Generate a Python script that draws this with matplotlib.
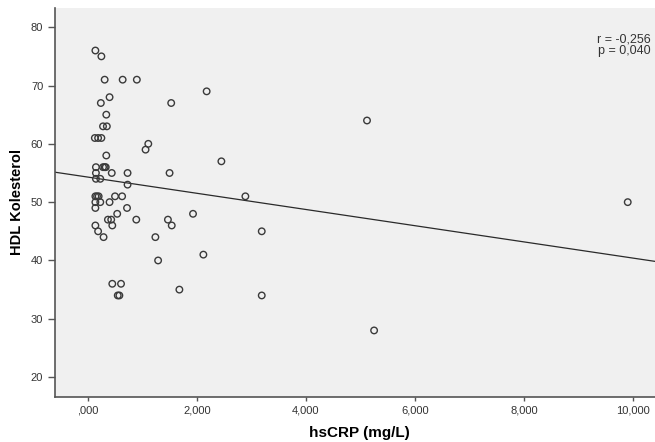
"""Scatter of HDL cholesterol against hsCRP with a linear fit line."""

import matplotlib
matplotlib.use("Agg")
import matplotlib.pyplot as plt
from matplotlib.ticker import FuncFormatter

plt.rcParams['font.family'] = ['Liberation Sans', 'DejaVu Sans']

# hsCRP (mg/L) values
hscrp = [
    0.14, 0.25, 0.31, 0.64, 0.90, 0.40, 0.24, 0.34, 0.28, 0.35,
    0.13, 0.19, 0.25, 1.11, 1.06, 0.34, 0.15, 0.28, 0.31, 0.33,
    0.44, 0.73, 0.15, 1.50, 0.15, 0.23, 0.73, 0.14, 0.17, 0.20,
    0.50, 0.63, 2.89, 0.14, 0.23, 0.40, 9.90, 0.72, 0.14, 0.54,
    1.93, 0.37, 0.43, 0.89, 1.47, 0.14, 0.45, 1.54, 0.19, 3.19,
    0.29, 1.24, 1.29, 2.12, 0.45, 0.61, 0.55, 0.58, 1.68, 3.19,
    5.12, 5.25, 2.18, 1.53, 2.45,
]
# HDL Kolesterol values
hdl = [
    76, 75, 71, 71, 71, 68, 67, 65, 63, 63,
    61, 61, 61, 60, 59, 58, 56, 56, 56, 56,
    55, 55, 55, 55, 54, 54, 53, 51, 51, 51,
    51, 51, 51, 50, 50, 50, 50, 49, 49, 48,
    48, 47, 47, 47, 47, 46, 46, 46, 45, 45,
    44, 44, 40, 41, 36, 36, 34, 34, 35, 34,
    64, 28, 69, 67, 57,
]

# fit line
fit_intercept = 54.3
fit_slope = -1.39
fit_x = [-0.6, 10.4]

x_ticks = [0, 2, 4, 6, 8, 10]
y_ticks = [20, 30, 40, 50, 60, 70, 80]
stats_text = "r = -0,256\np = 0,040"


def tr_fmt(v, pos):
    s = f"{v:.3f}".replace('.', ',')
    if s.startswith('0,'):
        s = s[1:]
    return s


fig = plt.figure(figsize=(6.55, 4.42), dpi=100)
ax = fig.add_axes([0.084, 0.102, 0.916, 0.880])
ax.set_facecolor('#f0f0f0')

ax.plot(fit_x, [fit_intercept + fit_slope * v for v in fit_x],
        color='#2a2a2a', linewidth=0.9)
ax.scatter(hscrp, hdl, s=22, facecolors='none', edgecolors='#3a3a3a',
           linewidths=1.0, zorder=3)

ax.set_xlim(-0.6, 10.4)
ax.set_ylim(16.6, 83.3)
ax.set_xticks(x_ticks)
ax.set_yticks(y_ticks)
ax.xaxis.set_major_formatter(FuncFormatter(tr_fmt))

for side in ['top', 'right']:
    ax.spines[side].set_visible(False)
for side in ['left', 'bottom']:
    ax.spines[side].set_color('#555555')
    ax.spines[side].set_linewidth(1.2)

ax.tick_params(axis='x', length=3, width=1, colors='#555555',
               labelcolor='#333333', labelsize=8)
ax.tick_params(axis='y', length=5, width=1, colors='#555555',
               labelcolor='#333333', labelsize=8)

ax.set_xlabel('hsCRP (mg/L)', fontsize=11, fontweight='bold', labelpad=5)
ax.set_ylabel('HDL Kolesterol', fontsize=10.5, fontweight='bold', labelpad=5)
ax.xaxis.set_label_coords(0.508, -0.075)

ax.text(0.993, 0.935, stats_text, transform=ax.transAxes, ha='right',
        va='top', fontsize=9, color='#333333', linespacing=1.0)

plt.savefig('out.png', dpi=100)
plt.close()
